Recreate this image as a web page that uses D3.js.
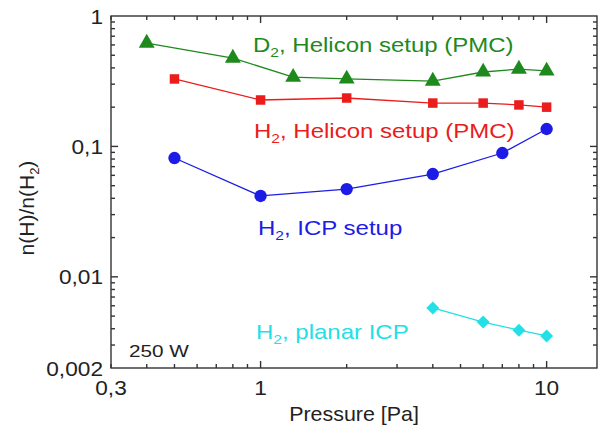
<!DOCTYPE html>
<html>
<head>
<meta charset="utf-8">
<script src="https://cdn.jsdelivr.net/npm/d3@7"></script>
<style>
  html, body { margin: 0; padding: 0; background: #fff; }
  svg { display: block; font-family: "Liberation Sans", Arial, sans-serif; }
</style>
</head>
<body>
<svg id="chart" width="603" height="434"></svg>
<script>
// Pressure values [Pa] per series
const pressD2Helicon = [0.4, 0.8, 1.3, 2, 4, 6, 8, 10];
const pressH2Helicon = [0.5, 1, 2, 4, 6, 8, 10];
const pressH2ICP = [0.5, 1, 2, 4, 7, 10];
const pressH2Planar = [4, 6, 8, 10];

// Atomic-to-molecular density ratio n(H)/n(H2)
const ratioD2Helicon = [0.62, 0.476, 0.34, 0.329, 0.317, 0.372, 0.392, 0.379];
const ratioH2Helicon = [0.329, 0.227, 0.235, 0.215, 0.215, 0.208, 0.2];
const ratioH2ICP = [0.0815, 0.0417, 0.0471, 0.0614, 0.089, 0.136];
const ratioH2Planar = [0.00577, 0.0045, 0.0039, 0.00352];

// Axis tick labels
const xTickValues = [0.3, 1, 10];
const xTickLabels = ["0,3", "1", "10"];
const yTickValues = [1, 0.1, 0.01, 0.002];
const yTickLabels = ["1", "0,1", "0,01", "0,002"];

const svg = d3.select("#chart");
const plotLeft = 111, plotRight = 597, plotTop = 16, plotBottom = 368;

const x = d3.scaleLog().domain([0.3, 15]).range([plotLeft, plotRight]);
const y = d3.scaleLog().domain([0.002, 1]).range([plotBottom, plotTop]);

// Text helper: placed at (px, py), optionally widened horizontally
function addText(parent, px, py, opts) {
  const o = Object.assign({ size: 20, sx: 1, anchor: "start", fill: "#222" }, opts);
  return parent.append("text")
    .attr("transform", `translate(${px},${py}) scale(${o.sx},1)`)
    .attr("text-anchor", o.anchor)
    .attr("font-size", o.size)
    .attr("fill", o.fill);
}

// Minor tick positions
const xMinor = [];
[0.1, 1, 10].forEach(d => { for (let k = 1; k <= 9; k++) { const v = d * k; if (v > 0.3 && v < 15) xMinor.push(v); } });
const yMinor = [];
[0.001, 0.01, 0.1].forEach(d => { for (let k = 1; k <= 9; k++) { const v = d * k; if (v > 0.002 && v < 1) yMinor.push(v); } });
const xMajor = [1, 10];
const yMajor = [0.1, 0.01];

const frame = svg.append("g").attr("stroke", "#333").attr("stroke-width", 1.4).attr("fill", "none");

// Ticks pointing into the plot on all four sides
function tickLen(v, major) { return major.some(m => Math.abs(m - v) < 1e-9) ? 7 : 4; }
xMinor.forEach(v => {
  const L = tickLen(v, xMajor);
  frame.append("line").attr("x1", x(v)).attr("x2", x(v)).attr("y1", plotBottom).attr("y2", plotBottom - L);
  frame.append("line").attr("x1", x(v)).attr("x2", x(v)).attr("y1", plotTop).attr("y2", plotTop + L);
});
yMinor.forEach(v => {
  const L = tickLen(v, yMajor);
  frame.append("line").attr("x1", plotLeft).attr("x2", plotLeft + L).attr("y1", y(v)).attr("y2", y(v));
  frame.append("line").attr("x1", plotRight).attr("x2", plotRight - L).attr("y1", y(v)).attr("y2", y(v));
});
frame.append("rect").attr("x", plotLeft).attr("y", plotTop).attr("width", plotRight - plotLeft).attr("height", plotBottom - plotTop);

// Tick labels
const labels = svg.append("g");
xTickValues.forEach((v, i) => {
  addText(labels, x(v), 395, { size: 21, sx: 1.08, anchor: "middle" }).text(xTickLabels[i]);
});
yTickValues.forEach((v, i) => {
  addText(labels, 103, y(v) + 7.5, { size: 21, sx: 1.08, anchor: "end" }).text(yTickLabels[i]);
});

// Axis titles
addText(labels, 354, 421, { size: 21, sx: 1.02, anchor: "middle" }).text("Pressure [Pa]");
const yt = labels.append("text").attr("transform", "translate(34,208) rotate(-90)")
  .attr("text-anchor", "middle").attr("font-size", 21).attr("fill", "#222");
yt.append("tspan").text("n(H)/n(H");
yt.append("tspan").attr("font-size", 13).attr("dy", 5).text("2");
yt.append("tspan").attr("dy", -5).text(")");

addText(labels, 129, 357, { size: 17, sx: 1.22 }).text("250 W");

// Series
const series = [
  { p: pressD2Helicon, r: ratioD2Helicon, color: "#1e8a1e", symbol: d3.symbolTriangle, size: 110, rot: 0, label: "D", lx: 253, ly: 52 },
  { p: pressH2Helicon, r: ratioH2Helicon, color: "#ea1c1c", symbol: d3.symbolSquare, size: 90, rot: 0, label: "H", lx: 254, ly: 138 },
  { p: pressH2ICP, r: ratioH2ICP, color: "#1c1ce6", symbol: d3.symbolCircle, size: 120, rot: 0, label: "H", lx: 258, ly: 235 },
  { p: pressH2Planar, r: ratioH2Planar, color: "#22e0e6", symbol: d3.symbolSquare, size: 85, rot: 45, label: "H", lx: 256, ly: 339 }
];
const labelTexts = [", Helicon setup (PMC)", ", Helicon setup (PMC)", ", ICP setup", ", planar ICP"];

const line = d3.line().x(d => x(d[0])).y(d => y(d[1]));
series.forEach((s, i) => {
  const pts = s.p.map((p, j) => [p, s.r[j]]);
  svg.append("path").datum(pts).attr("d", line).attr("fill", "none").attr("stroke", s.color).attr("stroke-width", 1.3);
  svg.append("g").selectAll("path").data(pts).join("path")
    .attr("transform", d => `translate(${x(d[0])},${y(d[1])}) rotate(${s.rot})`)
    .attr("d", d3.symbol().type(s.symbol).size(s.size))
    .attr("fill", s.color);
  const t = addText(svg, s.lx, s.ly, { size: 20, sx: 1.2, fill: s.color });
  t.append("tspan").text(s.label);
  t.append("tspan").attr("font-size", 13).attr("dy", 5).text("2");
  t.append("tspan").attr("dy", -5).text(labelTexts[i]);
});
</script>
</body>
</html>
